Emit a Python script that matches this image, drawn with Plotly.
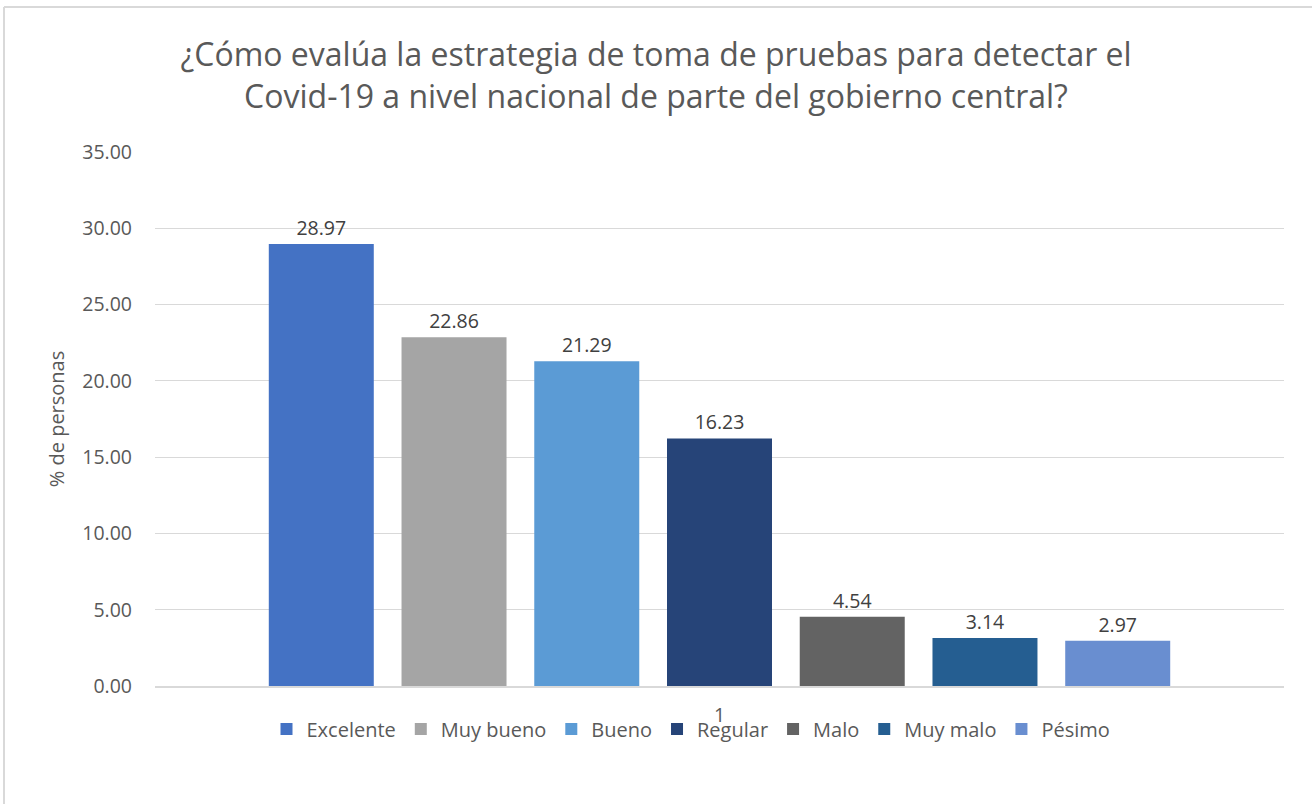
import plotly.graph_objects as go

categories = ["1"]
series_names = ["Excelente", "Muy bueno", "Bueno", "Regular", "Malo", "Muy malo", "Pésimo"]
series_values = [28.97, 22.86, 21.29, 16.23, 4.54, 3.14, 2.97]
series_colors = ["#4472C4", "#A5A5A5", "#5B9BD5", "#264478", "#636363", "#255E91", "#698ED0"]
y_ticks = [0, 5, 10, 15, 20, 25, 30, 35]

title_text = ("¿Cómo evalúa la estrategia de toma de pruebas para detectar el<br>"
              "Covid-19 a nivel nacional de parte del gobierno central?")

FONT = "Open Sans"

fig = go.Figure()
for name, val, col in zip(series_names, series_values, series_colors):
    fig.add_trace(go.Bar(
        x=categories, y=[val], name=name,
        marker=dict(color=col, line=dict(width=0)),
        text=[f"{val:.2f}"], textposition="outside",
        textfont=dict(family=FONT, size=19.5, color="#404040"),
        cliponaxis=False,
    ))

W, H = 1312, 804
ml, mr, mt, mb = 155, 28, 152, 118
pw = W - ml - mr
ph = H - mt - mb

def px_x(x):
    return (x - ml) / pw

def px_y(y):
    return (H - mb - y) / ph

fig.update_layout(
    width=W, height=H,
    margin=dict(l=ml, r=mr, t=mt, b=mb, autoexpand=False),
    paper_bgcolor="white", plot_bgcolor="white",
    barmode="group", bargap=0.177, bargroupgap=0.209,
    title=dict(text=title_text, x=0.5, xanchor="center", y=1 - 66 / H, yanchor="middle",
               font=dict(family=FONT, size=32, color="#595959")),
    font=dict(family=FONT, color="#595959"),
    showlegend=True,
    legend=dict(orientation="h", x=px_x(691), xanchor="center", y=px_y(729), yanchor="middle",
                font=dict(family=FONT, size=20, color="#595959"),
                itemwidth=30, traceorder="normal", bgcolor="rgba(0,0,0,0)"),
    xaxis=dict(type="category", showgrid=False, showline=True, linecolor="#D9D9D9", linewidth=1.5,
               tickfont=dict(family=FONT, size=19.5, color="#595959"), ticks="",
               ticklabelstandoff=11),
    yaxis=dict(range=[0, 35], tickvals=y_ticks, tickformat=".2f",
               showgrid=True, gridcolor="#D9D9D9", gridwidth=1.2,
               zeroline=False, showline=False, ticks="",
               tickfont=dict(family=FONT, size=19.5, color="#595959"),
               ticklabelstandoff=22,
               title=dict(text="% de personas", standoff=12,
                          font=dict(family=FONT, size=20, color="#595959"))),
    shapes=[
        dict(type="line", xref="paper", yref="paper", x0=px_x(4), x1=px_x(1320),
             y0=px_y(7), y1=px_y(7), line=dict(color="#D9D9D9", width=2)),
        dict(type="line", xref="paper", yref="paper", x0=px_x(4), x1=px_x(4),
             y0=px_y(7), y1=px_y(810), line=dict(color="#D9D9D9", width=2)),
    ],
)

fig.write_html("out.html", config={"displayModeBar": False},
               post_script="document.body.style.margin='0';document.body.style.overflow='hidden';")
